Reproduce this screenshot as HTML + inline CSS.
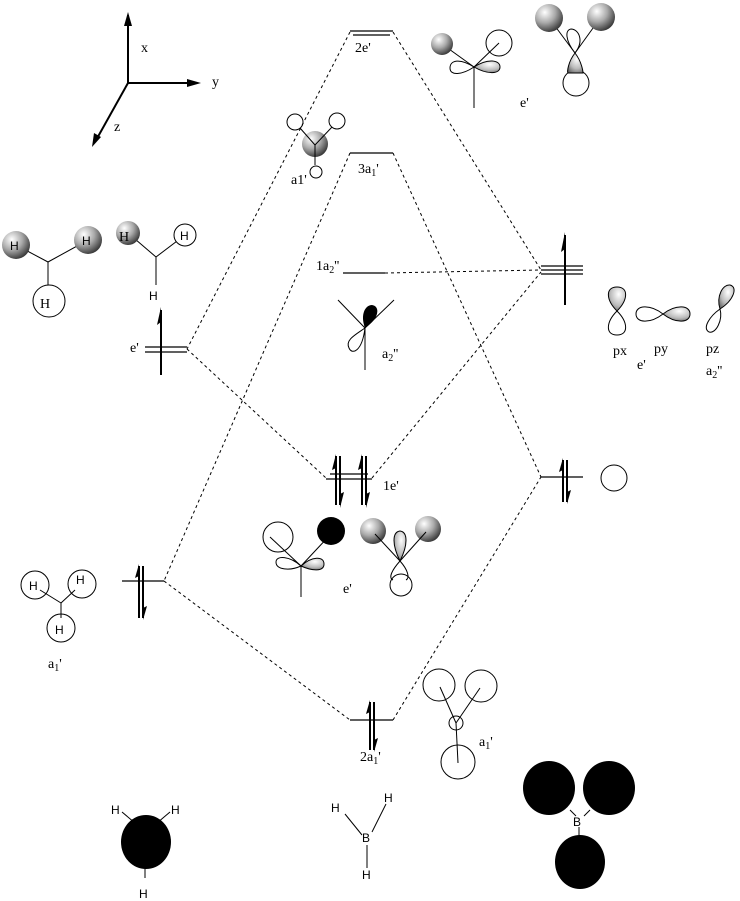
<!DOCTYPE html>
<html><head><meta charset="utf-8"><style>
html,body{margin:0;padding:0;background:#fff}
svg{display:block}
text{font-family:"Liberation Serif",serif;font-size:14px;fill:#000}
.s{font-family:"Liberation Sans",sans-serif;font-size:12px}
</style></head><body>
<svg width="740" height="901" viewBox="0 0 740 901" xmlns="http://www.w3.org/2000/svg">
<defs>
<radialGradient id="g" cx="0.35" cy="0.3" r="0.75">
<stop offset="0" stop-color="#fff"/><stop offset="0.5" stop-color="#aaa"/><stop offset="1" stop-color="#333"/>
</radialGradient>
<radialGradient id="g2" cx="0.6" cy="0.3" r="0.8">
<stop offset="0" stop-color="#fff"/><stop offset="0.6" stop-color="#bbb"/><stop offset="1" stop-color="#666"/>
</radialGradient>
</defs>
<g fill="none" stroke="#000" stroke-width="1">
<line x1="128" y1="83" x2="128" y2="15" stroke-width="2"/>
<line x1="128" y1="83" x2="195" y2="83" stroke-width="2"/>
<line x1="128" y1="83" x2="95" y2="142" stroke-width="2"/>
</g>
<polygon points="128,12 124,26 132,26" fill="#000"/>
<polygon points="201,83 187,79 187,87" fill="#000"/>
<polygon points="92,147 94,133 101,137" fill="#000"/>
<text x="141" y="52">x</text><text x="212" y="86">y</text><text x="114" y="131">z</text>

<g stroke="#000" stroke-width="1" stroke-dasharray="3,3" fill="none">
<line x1="350" y1="32" x2="187" y2="349"/>
<line x1="393" y1="32" x2="541" y2="270"/>
<line x1="350" y1="153" x2="164" y2="581"/>
<line x1="393" y1="153" x2="541" y2="477"/>
<line x1="385" y1="273" x2="541" y2="270"/>
<line x1="187" y1="349" x2="326" y2="478"/>
<line x1="372" y1="478" x2="541" y2="272"/>
<line x1="164" y1="581" x2="350" y2="720"/>
<line x1="393" y1="720" x2="541" y2="477"/>
</g>

<g stroke="#000" stroke-width="1.2" fill="none">
<line x1="350" y1="31" x2="393" y2="31"/><line x1="353" y1="35" x2="390" y2="35"/>
<line x1="350" y1="153" x2="393" y2="153"/>
<line x1="343" y1="273" x2="385" y2="273"/>
<line x1="145" y1="347" x2="187" y2="347"/><line x1="145" y1="352" x2="187" y2="352"/>
<line x1="330" y1="474" x2="368" y2="474"/><line x1="326" y1="479" x2="372" y2="479"/>
<line x1="122" y1="581" x2="164" y2="581"/>
<line x1="350" y1="720" x2="393" y2="720"/>
<line x1="541" y1="266" x2="583" y2="266"/><line x1="541" y1="270" x2="583" y2="270"/><line x1="541" y1="274" x2="583" y2="274"/>
<line x1="541" y1="477" x2="583" y2="477"/>
</g>

<g stroke="#000" stroke-width="2">
<line x1="161" y1="375" x2="161" y2="310"/>
<line x1="565" y1="305" x2="565" y2="235"/>
<line x1="336" y1="456" x2="336" y2="505"/><line x1="340" y1="456" x2="340" y2="505"/>
<line x1="362" y1="456" x2="362" y2="505"/><line x1="366" y1="456" x2="366" y2="505"/>
<line x1="563" y1="460" x2="563" y2="502"/><line x1="567" y1="460" x2="567" y2="502"/>
<line x1="139" y1="566" x2="139" y2="618"/><line x1="143" y1="566" x2="143" y2="618"/>
<line x1="370" y1="702" x2="370" y2="750"/><line x1="374" y1="702" x2="374" y2="750"/>
</g>
<g fill="#000">
<polygon points="161,307 157,325 161,322"/>
<polygon points="565,232 561,252 565,249"/>
<polygon points="336,454 332,470 336,468"/><polygon points="340,508 344,492 340,494"/>
<polygon points="362,454 358,470 362,468"/><polygon points="366,508 370,492 366,494"/>
<polygon points="563,458 559,472 563,470"/><polygon points="567,504 571,490 567,492"/>
<polygon points="139,564 135,578 139,576"/><polygon points="143,620 147,606 143,608"/>
<polygon points="370,700 366,714 370,712"/><polygon points="374,752 378,738 374,740"/>
</g>

<text x="355" y="52">2e'</text>
<text x="358" y="173">3a<tspan font-size="10" dy="3">1</tspan><tspan dy="-3">'</tspan></text>
<text x="316" y="270">1a<tspan font-size="10" dy="3">2</tspan><tspan dy="-3">''</tspan></text>
<text x="130" y="352">e'</text>
<text x="383" y="490">1e'</text>
<text x="360" y="761">2a<tspan font-size="10" dy="3">1</tspan><tspan dy="-3">'</tspan></text>

<g stroke="#000" fill="none">
<line x1="16" y1="245" x2="48" y2="262"/><line x1="88" y1="240" x2="48" y2="262"/><line x1="48" y1="262" x2="48" y2="290"/>
<line x1="128" y1="233" x2="156" y2="257"/><line x1="185" y1="235" x2="156" y2="257"/><line x1="156" y1="257" x2="156" y2="285"/>
</g>
<circle cx="16" cy="245" r="14" fill="url(#g)"/>
<circle cx="88" cy="240" r="14" fill="url(#g)"/>
<circle cx="49" cy="301" r="16" fill="#fff" stroke="#000"/>
<text x="10" y="250" class="s">H</text><text x="82" y="245" class="s">H</text>
<text x="40" y="308" font-size="18">H</text>
<circle cx="128" cy="233" r="12" fill="url(#g)"/>
<text x="119" y="241" font-size="18">H</text>
<circle cx="185" cy="235" r="11" fill="#fff" stroke="#000"/>
<text x="180" y="240" class="s">H</text>
<text x="149" y="300" class="s">H</text>

<circle cx="295" cy="122" r="8" fill="none" stroke="#000"/>
<circle cx="337" cy="121" r="8" fill="none" stroke="#000"/>
<circle cx="316" cy="172" r="6" fill="none" stroke="#000"/>
<circle cx="315" cy="144" r="13" fill="url(#g)"/>
<g stroke="#000"><line x1="300" y1="128" x2="315" y2="145"/><line x1="332" y1="127" x2="315" y2="145"/><line x1="315" y1="145" x2="315" y2="165"/></g>
<text x="291" y="184">a1'</text>

<g stroke="#000" fill="none">
<line x1="338" y1="300" x2="365" y2="328"/><line x1="394" y1="300" x2="365" y2="328"/><line x1="365" y1="328" x2="365" y2="370"/>
<path d="M365,328 C355,335 345,340 349,348 C352,355 362,352 365,328Z"/>
</g>
<path d="M365,328 C360,315 365,305 372,305 C380,306 380,318 365,328Z" fill="#000"/>
<text x="382" y="358">a<tspan font-size="10" dy="3">2</tspan><tspan dy="-3">''</tspan></text>

<g stroke="#000" fill="none">
<path d="M474,67 C460,58 450,60 450,68 C450,76 462,75 474,67Z"/>
<line x1="442" y1="44" x2="474" y2="67"/><line x1="499" y1="43" x2="474" y2="67"/><line x1="474" y1="67" x2="474" y2="108"/>
<circle cx="499" cy="43" r="13"/>
<path d="M575,53 C565,40 565,30 571,29 C578,29 585,40 575,53Z"/>
<circle cx="576" cy="83" r="13"/>
<line x1="549" y1="18" x2="575" y2="53"/><line x1="601" y1="17" x2="575" y2="53"/>
</g>
<circle cx="442" cy="44" r="11" fill="url(#g)"/>
<path d="M474,67 C488,58 500,60 500,67 C500,74 488,75 474,67Z" fill="url(#g2)" stroke="#000"/>
<circle cx="549" cy="18" r="14" fill="url(#g)"/>
<circle cx="601" cy="17" r="14" fill="url(#g)"/>
<path d="M575,53 C568,62 567,72 568,73 L583,73 C583,72 582,62 575,53Z" fill="url(#g2)" stroke="#000"/>
<text x="520" y="107">e'</text>

<path d="M617,311 C606,300 605,287 617,287 C629,287 628,300 617,311Z" fill="url(#g2)" stroke="#000"/>
<path d="M617,311 C606,322 605,335 617,335 C629,335 628,322 617,311Z" fill="none" stroke="#000"/>
<path d="M663,314 C676,304 690,305 690,314 C690,323 676,324 663,314Z" fill="url(#g2)" stroke="#000"/>
<path d="M663,314 C650,304 636,305 636,314 C636,323 650,324 663,314Z" fill="none" stroke="#000"/>
<path d="M720,309 C716,296 723,284 730,285 C738,287 734,300 720,309Z" fill="url(#g2)" stroke="#000"/>
<path d="M720,309 C710,316 702,328 709,332 C716,334 723,320 720,309Z" fill="none" stroke="#000"/>
<text x="613" y="355">px</text><text x="654" y="353">py</text><text x="706" y="353">pz</text>
<text x="637" y="369">e'</text>
<text x="706" y="375">a<tspan font-size="10" dy="3">2</tspan><tspan dy="-3">''</tspan></text>
<circle cx="614" cy="478" r="13" fill="none" stroke="#000"/>

<g stroke="#000" fill="none">
<circle cx="278" cy="537" r="15"/>
<path d="M301,566 C290,556 276,555 276,562 C276,570 290,571 301,566Z"/>
<line x1="270" y1="537" x2="301" y2="566"/><line x1="330" y1="535" x2="301" y2="566"/><line x1="301" y1="566" x2="301" y2="597"/>
<path d="M400,561 C392,570 388,578 393,580"/><path d="M400,561 C408,570 410,578 406,580"/>
<circle cx="401" cy="585" r="11"/>
</g>
<circle cx="331" cy="531" r="14" fill="#000"/>
<path d="M301,566 C312,556 324,556 324,564 C324,572 312,571 301,566Z" fill="url(#g2)" stroke="#000"/>
<circle cx="373" cy="531" r="13" fill="url(#g)"/>
<circle cx="428" cy="529" r="13" fill="url(#g)"/>
<g stroke="#000"><line x1="375" y1="534" x2="400" y2="561"/><line x1="426" y1="532" x2="400" y2="561"/></g>
<path d="M400,561 C392,545 392,532 400,531 C408,532 408,545 400,561Z" fill="url(#g2)" stroke="#000"/>
<text x="343" y="593">e'</text>

<g stroke="#000" fill="none">
<circle cx="35" cy="585" r="14"/><circle cx="82" cy="584" r="14"/><circle cx="61" cy="628" r="14"/>
<line x1="40" y1="590" x2="61" y2="603"/><line x1="75" y1="590" x2="61" y2="603"/><line x1="61" y1="603" x2="61" y2="618"/>
</g>
<text x="29" y="590" class="s">H</text><text x="76" y="584" class="s">H</text><text x="55" y="634" class="s">H</text>
<text x="48" y="668">a<tspan font-size="10" dy="3">1</tspan><tspan dy="-3">'</tspan></text>

<g stroke="#000" fill="none">
<circle cx="439" cy="685" r="16"/><circle cx="481" cy="686" r="16"/>
<circle cx="456" cy="723" r="7"/><circle cx="458" cy="762" r="17"/>
<line x1="440" y1="687" x2="456" y2="723"/><line x1="480" y1="688" x2="456" y2="723"/><line x1="456" y1="723" x2="458" y2="763"/>
</g>
<text x="479" y="746">a<tspan font-size="10" dy="3">1</tspan><tspan dy="-3">'</tspan></text>

<g stroke="#000">
<line x1="122" y1="812" x2="135" y2="823"/><line x1="170" y1="812" x2="157" y2="823"/><line x1="145" y1="862" x2="145" y2="878"/>
<line x1="345" y1="814" x2="362" y2="835"/><line x1="386" y1="804" x2="372" y2="832"/><line x1="367" y1="845" x2="367" y2="868"/>
<line x1="570" y1="810" x2="576" y2="816"/><line x1="590" y1="810" x2="584" y2="816"/><line x1="579" y1="827" x2="579" y2="838"/>
</g>
<ellipse cx="146" cy="842" rx="25" ry="27" fill="#000"/>
<text x="111" y="814" class="s">H</text><text x="171" y="814" class="s">H</text><text x="139" y="898" class="s">H</text>
<text x="331" y="812" class="s">H</text><text x="384" y="802" class="s">H</text><text x="362" y="842" class="s">B</text><text x="362" y="879" class="s">H</text>
<ellipse cx="549" cy="788" rx="26" ry="27" fill="#000"/>
<ellipse cx="609" cy="788" rx="26" ry="27" fill="#000"/>
<ellipse cx="580" cy="862" rx="25" ry="27" fill="#000"/>
<text x="573" y="826" class="s">B</text>
</svg>
</body></html>
